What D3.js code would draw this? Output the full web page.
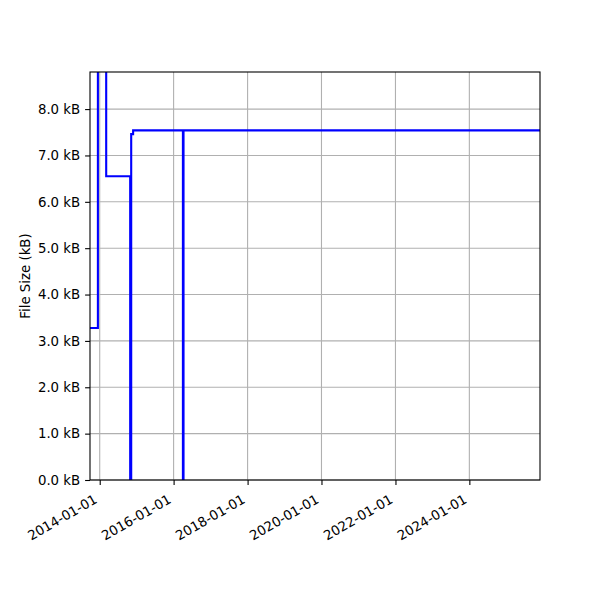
<!DOCTYPE html>
<html>
<head>
<meta charset="utf-8" />
<title>File Size</title>
<script src="https://d3js.org/d3.v7.min.js"></script>
<style>
  body { margin: 0; background: #fff; }
  text { font-family: "DejaVu Sans", sans-serif; }
</style>
</head>
<body>
<svg width="600" height="600"></svg>
<script>
    // Data: step changes of the file size (kB)
    var dates = ["2013-09-27", "2013-12-14", "2014-03-06", "2014-10-29", "2014-11-08",
                 "2014-11-27", "2016-04-02", "2016-04-08", "2025-11-29"];
    var sizes = [3.28, 9.6, 6.55, 0, 7.46, 7.54, 0, 7.54, 7.54];
    var xTicks = ["2014-01-01", "2016-01-01", "2018-01-01", "2020-01-01", "2022-01-01", "2024-01-01"];
    var yTicks = [0, 1, 2, 3, 4, 5, 6, 7, 8];

    var parse = d3.timeParse("%Y-%m-%d");
    var data = dates.map(function (d, i) { return { date: parse(d), value: sizes[i] }; });

    var svg = d3.select("svg");
    var margin = { top: 72, right: 60, bottom: 120, left: 90 },
        width = +svg.attr("width") - margin.left - margin.right,
        height = +svg.attr("height") - margin.top - margin.bottom;

    var x = d3.scaleTime()
        .domain([parse("2013-09-27"), parse("2025-11-29")])
        .range([0, width]);
    var y = d3.scaleLinear().domain([0, 8.8]).range([height, 0]);

    var g = svg.append("g").attr("transform", "translate(" + margin.left + "," + margin.top + ")");

    svg.append("defs").append("clipPath").attr("id", "clip")
        .append("rect").attr("width", width).attr("height", height);

    // grid
    g.append("g").selectAll("line").data(xTicks).enter().append("line")
        .attr("x1", function (d) { return x(parse(d)); })
        .attr("x2", function (d) { return x(parse(d)); })
        .attr("y1", 0).attr("y2", height)
        .attr("stroke", "#b0b0b0").attr("stroke-width", 1.1);
    g.append("g").selectAll("line").data(yTicks).enter().append("line")
        .attr("x1", 0).attr("x2", width)
        .attr("y1", function (d) { return y(d); })
        .attr("y2", function (d) { return y(d); })
        .attr("stroke", "#b0b0b0").attr("stroke-width", 1.1);

    // step line
    var line = d3.line()
        .x(function (d) { return x(d.date); })
        .y(function (d) { return y(d.value); })
        .curve(d3.curveStepAfter);
    g.append("path").datum(data)
        .attr("clip-path", "url(#clip)")
        .attr("d", line)
        .attr("fill", "none")
        .attr("stroke", "#0000ff")
        .attr("stroke-width", 2.1);

    // x axis
    var xAxis = g.append("g")
        .attr("transform", "translate(0," + height + ")")
        .call(d3.axisBottom(x).tickValues(xTicks.map(parse)).tickSize(4.9).tickPadding(0)
            .tickFormat(d3.timeFormat("%Y-%m-%d")));
    xAxis.select(".domain").remove();
    xAxis.selectAll("line").attr("stroke", "#000").attr("stroke-width", 1.1);
    xAxis.selectAll("text")
        .attr("font-size", "13.33px")
        .attr("font-family", "DejaVu Sans")
        .attr("fill", "#000")
        .attr("text-anchor", "end")
        .attr("dy", null)
        .attr("y", 0)
        .attr("transform", "translate(-2,22) rotate(-30)");

    // y axis
    var yAxis = g.append("g")
        .call(d3.axisLeft(y).tickValues(yTicks).tickSize(4.9).tickPadding(4.9)
            .tickFormat(function (d) { return d.toFixed(1) + " kB"; }));
    yAxis.select(".domain").remove();
    yAxis.selectAll("line").attr("stroke", "#000").attr("stroke-width", 1.1);
    yAxis.selectAll("text")
        .attr("font-size", "13.33px")
        .attr("font-family", "DejaVu Sans")
        .attr("fill", "#000");

    // frame
    g.append("rect").attr("width", width).attr("height", height)
        .attr("fill", "none").attr("stroke", "#000").attr("stroke-width", 1.1);

    // y label
    svg.append("text")
        .attr("transform", "translate(30," + (margin.top + height / 2) + ") rotate(-90)")
        .attr("text-anchor", "middle")
        .attr("font-size", "13.33px")
        .text("File Size (kB)");
</script>
</body>
</html>
